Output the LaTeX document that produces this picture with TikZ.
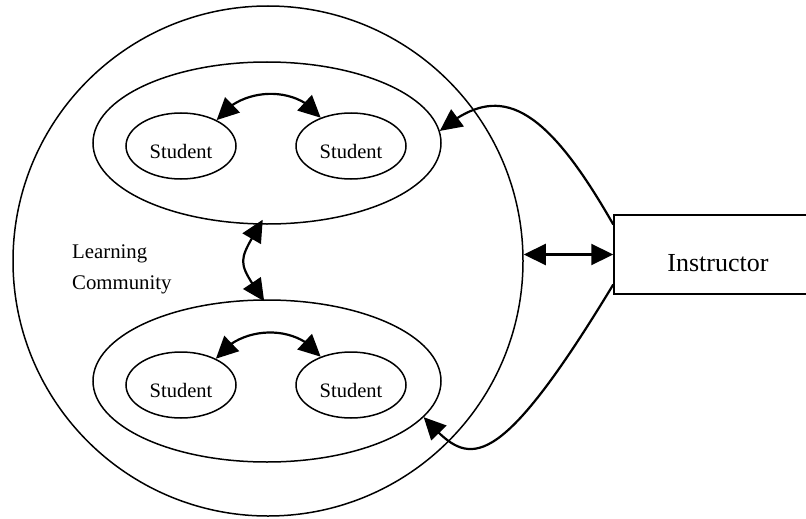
\documentclass[tikz,border=0pt]{standalone}
\usepackage{fontspec}
\setmainfont{Liberation Serif}
\usetikzlibrary{arrows.meta,bending,shapes.geometric}

\tikzset{
	group/.style={draw, ellipse, line width=1.5pt, minimum width=348pt, minimum height=162pt, inner sep=0pt},
	student/.style={draw, ellipse, line width=1.5pt, minimum width=110pt, minimum height=66pt, inner sep=0pt, font=\fontsize{20.5}{24}\selectfont, text height=24pt, text depth=0pt},
	link/.style={line width=2.2pt}
}

\begin{document}
\begin{tikzpicture}[x=1pt, y=1pt, >={Triangle[length=22pt, width=21pt]}]
	\useasboundingbox (0,0) rectangle (806,-519);
	
	\node[draw, circle, line width=1.5pt, minimum size=510pt, inner sep=0pt] (community) at (268,-261) {};
	\node[group] (upper) at (267,-143) {};
	\node[group] (lower) at (267,-381) {};
	
	\node[student] (s1) at (181,-146) {Student};
	\node[student] (s2) at (351,-146) {Student};
	\node[student] (s3) at (181,-385) {Student};
	\node[student] (s4) at (351,-385) {Student};
	
	\node[anchor=base west, align=left, inner sep=0pt, font=\fontsize{20.8}{31}\selectfont] (label) at (72,-289) {Learning\\Community};
	
	\node[draw, line width=1.5pt, minimum width=208pt, minimum height=79pt, inner sep=0pt, text height=33pt, text depth=0pt, font=\fontsize{26}{30}\selectfont] (instructor) at (718,-254.5) {Instructor};
	
	
	\draw[link, <->] (s1.36) to[out=55, in=125] (s2.137);
	\draw[link, <->] (s3.37) to[out=55, in=125] (s4.137);
	\draw[link, <->] ([yshift=5pt]upper.267) to[out=240, in=124, looseness=1.6] ([yshift=-2pt]lower.92);
	
	\draw[link, <->] (community.east |- instructor.west) -- (instructor.west);
	\draw[link, ->] (instructor.164) .. controls +(-74,130) and +(55,46) .. (upper.4);
	\draw[link, ->] (instructor.196) .. controls +(-124,-205) and +(42,-45) .. (lower.347);
	
\end{tikzpicture}
\end{document}
